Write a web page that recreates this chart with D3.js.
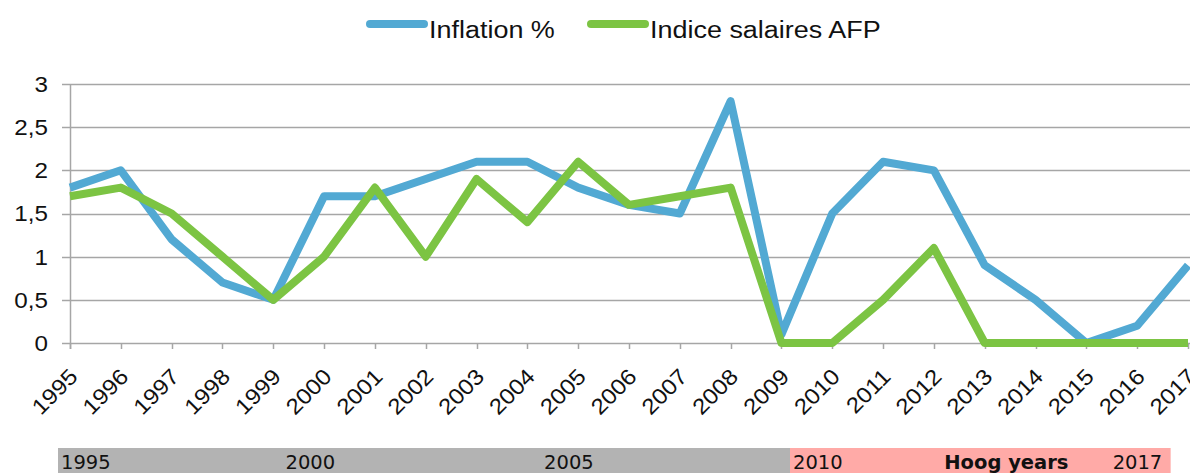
<!DOCTYPE html>
<html>
<head>
<meta charset="utf-8">
<script src="https://cdn.jsdelivr.net/npm/d3@7"></script>
<style>
  body { margin: 0; background: #fff; }
  svg { display: block; }
  .tick-label { font-family: "Liberation Sans", Arial, sans-serif; font-size: 22px; fill: #111; }
  .legend-label { font-family: "Liberation Sans", Arial, sans-serif; font-size: 24.5px; fill: #111; }
  .band-label { font-family: "DejaVu Sans", Verdana, sans-serif; font-size: 19.5px; fill: #111; }
</style>
</head>
<body>
<div class="chart"></div>
<script>
const years = d3.range(1995, 2018).map(String)

const inflation = [1.8, 2.0, 1.2, 0.7, 0.5, 1.7, 1.7, 1.9, 2.1, 2.1, 1.8, 1.6, 1.5, 2.8, 0.1, 1.5, 2.1, 2.0, 0.9, 0.5, 0.0, 0.2, 0.9]
const salaires = [1.7, 1.8, 1.5, 1.0, 0.5, 1.0, 1.8, 1.0, 1.9, 1.4, 2.1, 1.6, 1.7, 1.8, 0, 0, 0.5, 1.1, 0, 0, 0, 0, 0]

const yTicks = [0, 0.5, 1, 1.5, 2, 2.5, 3]

const series = [
  {name: 'Inflation %', values: inflation, color: '#52a9d3'},
  {name: 'Indice salaires AFP', values: salaires, color: '#7cc443'}
]

// strip under the chart: [year where the cell starts, label, bold]
const bandLabels = [
  {at: 1995, label: '1995', bold: false},
  {at: 1999.6, label: '2000', bold: false},
  {at: 2004.9, label: '2005', bold: false},
  {at: 2010, label: '2010', bold: false},
  {at: 2013.1, label: 'Hoog years', bold: true},
  {at: 2016.55, label: '2017', bold: false}
]
const bandSegments = [
  {from: 1995, to: 2010, color: '#b3b3b3'},
  {from: 2010, to: 2017.8, color: '#ffaaa7'}
]

const width = 1190
const height = 473
const margin = {top: 84, right: 2, bottom: 130, left: 70}
const stretch = 1.1 // the original text is a bit wider than the font

const svg = d3.select('.chart')
.append('svg')
.attr('width', width)
.attr('height', height)

const x = d3.scalePoint()
.domain(years)
.range([margin.left, width - margin.right])

const y = d3.scaleLinear()
.domain([0, 3])
.range([height - margin.bottom, margin.top])

const axisColor = '#a6a6a6'

// horizontal grid
svg.append('g')
.selectAll('line')
.data(yTicks)
.enter()
.append('line')
.attr('x1', margin.left - 8)
.attr('x2', width)
.attr('y1', d => Math.round(y(d)) + 0.5)
.attr('y2', d => Math.round(y(d)) + 0.5)
.attr('stroke', axisColor)
.attr('stroke-width', 1.5)

// y axis line
svg.append('line')
.attr('x1', margin.left + 0.5)
.attr('x2', margin.left + 0.5)
.attr('y1', y(3))
.attr('y2', y(0) + 6)
.attr('stroke', axisColor)
.attr('stroke-width', 1.5)

// x ticks
svg.append('g')
.selectAll('line')
.data(years)
.enter()
.append('line')
.attr('x1', d => Math.round(x(d)) + 0.5)
.attr('x2', d => Math.round(x(d)) + 0.5)
.attr('y1', y(0))
.attr('y2', y(0) + 6)
.attr('stroke', axisColor)
.attr('stroke-width', 1.5)

const fmt = d => String(d).replace('.', ',')

svg.append('g')
.selectAll('text')
.data(yTicks)
.enter()
.append('text')
.attr('class', 'tick-label')
.attr('text-anchor', 'end')
.attr('dy', '0.36em')
.attr('transform', d => `translate(${margin.left - 22},${y(d)}) scale(${stretch},1)`)
.text(fmt)

svg.append('g')
.selectAll('text')
.data(years)
.enter()
.append('text')
.attr('class', 'tick-label')
.attr('text-anchor', 'end')
.attr('transform', d => `translate(${x(d) + 9},${y(0) + 35}) rotate(-45) scale(${stretch},1)`)
.text(d => d)

// lines
const line = d3.line()
.x((d, i) => x(years[i]))
.y(d => y(d))

svg.append('g')
.selectAll('path')
.data(series)
.enter()
.append('path')
.attr('d', d => line(d.values))
.attr('fill', 'none')
.attr('stroke', d => d.color)
.attr('stroke-width', 8)
.attr('stroke-linejoin', 'round')

// legend
const legendX = d3.scaleOrdinal()
.domain(series.map(d => d.name))
.range([367, 588])

const legend = svg.append('g')
.selectAll('g')
.data(series)
.enter()
.append('g')
.attr('transform', d => `translate(${legendX(d.name)},24)`)

legend.append('line')
.attr('x1', 3)
.attr('x2', 57)
.attr('stroke', d => d.color)
.attr('stroke-width', 8)
.attr('stroke-linecap', 'round')

legend.append('text')
.attr('class', 'legend-label')
.attr('transform', `translate(62,14) scale(${stretch},1)`)
.text(d => d.name)

// year strip at the bottom
const xb = d3.scaleLinear()
.domain([1995, 2010])
.range([58, 790])

svg.append('g')
.selectAll('rect')
.data(bandSegments)
.enter()
.append('rect')
.attr('x', d => xb(d.from))
.attr('width', d => xb(d.to) - xb(d.from))
.attr('y', 448)
.attr('height', height - 448)
.attr('fill', d => d.color)

svg.append('g')
.selectAll('text')
.data(bandLabels)
.enter()
.append('text')
.attr('class', 'band-label')
.attr('x', d => xb(d.at) + 3)
.attr('y', 469)
.attr('font-weight', d => d.bold ? 'bold' : 'normal')
.text(d => d.label)
</script>
</body>
</html>
